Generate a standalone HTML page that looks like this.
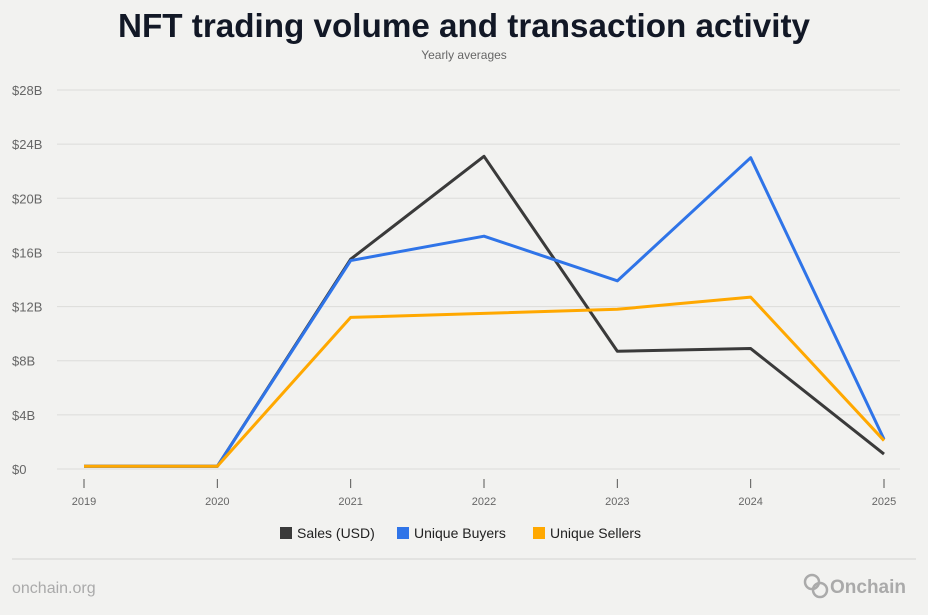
<!DOCTYPE html>
<html><head><meta charset="utf-8"><style>
html,body{margin:0;padding:0;background:#f2f2f0;}
body{width:928px;height:610px;overflow:hidden;font-family:"Liberation Sans",sans-serif;}
</style></head><body>
<svg width="928" height="610" xmlns="http://www.w3.org/2000/svg">
<rect x="0" y="0" width="928" height="610" fill="#f2f2f0"/>
<text x="464" y="37" text-anchor="middle" font-size="33" font-weight="bold" fill="#121826" textLength="692" lengthAdjust="spacingAndGlyphs">NFT trading volume and transaction activity</text>
<text x="464" y="59" text-anchor="middle" font-size="12" fill="#666">Yearly averages</text>
<g id="grid"></g><g id="xaxis"></g><g id="lines"></g>
<g>
<rect x="280" y="527" width="12" height="12" fill="#3a3a3a"/>
<text x="297" y="538" font-size="14" fill="#222">Sales (USD)</text>
<rect x="397" y="527" width="12" height="12" fill="#2f74e8"/>
<text x="414" y="538" font-size="14" fill="#222">Unique Buyers</text>
<rect x="533" y="527" width="12" height="12" fill="#ffa800"/>
<text x="550" y="538" font-size="14" fill="#222">Unique Sellers</text>
</g>
<line x1="12" y1="559" x2="916" y2="559" stroke="#d4d4d2" stroke-width="1"/>
<text x="12" y="593" font-size="16" fill="#aaa">onchain.org</text>
<g>
<circle cx="812" cy="582" r="7" fill="none" stroke="#aaa" stroke-width="2.5"/>
<circle cx="820" cy="590" r="7" fill="none" stroke="#aaa" stroke-width="2.5"/>
<text x="830" y="593" font-size="19" font-weight="bold" fill="#aaa">Onchain</text>
</g>
</svg>
<script>
const years=["2019","2020","2021","2022","2023","2024","2025"];
const sales=[0.2,0.2,15.5,23.1,8.7,8.9,1.1];
const buyers=[0.2,0.2,15.4,17.2,13.9,23.0,2.2];
const sellers=[0.2,0.2,11.2,11.5,11.8,12.7,2.1];
const yTicks=[0,4,8,12,16,20,24,28];
const yTickLabels=["$0","$4B","$8B","$12B","$16B","$20B","$24B","$28B"];
const NS="http://www.w3.org/2000/svg";
const x=i=>84+i*(800/(years.length-1));
const y=v=>469-v*(379/28);
function mk(t,a,p){const e=document.createElementNS(NS,t);for(const k in a)e.setAttribute(k,a[k]);p.appendChild(e);return e;}
const grid=document.getElementById('grid');
yTicks.forEach((v,i)=>{
 const l=mk('line',{x1:57,x2:900,y1:y(v),y2:y(v),stroke:'#dcdcda','stroke-width':1},grid);
 
 
 const t=mk('text',{x:12,y:y(v)+5,'font-size':13,fill:'#666'},grid);
 t.textContent=yTickLabels[i];
 
 
});
const xa=document.getElementById('xaxis');
years.forEach((yr,i)=>{
 const l=mk('line',{x1:x(i),x2:x(i),y1:479,y2:488,stroke:'#555','stroke-width':1},xa);
 
 
 const t=mk('text',{x:x(i),y:505,'font-size':11,fill:'#666','text-anchor':'middle'},xa);
 t.textContent=yr;
 
 
});
const lines=document.getElementById('lines');
[[sales,'#3a3a3a','line-sales'],[buyers,'#2f74e8','line-buyers'],[sellers,'#ffa800','line-sellers']].forEach(([d,c,n])=>{
 const p=mk('polyline',{points:d.map((v,i)=>x(i)+','+y(v)).join(' '),fill:'none',stroke:c,'stroke-width':3,'stroke-linejoin':'round'},lines);
 
 
});
</script>
</body></html>
